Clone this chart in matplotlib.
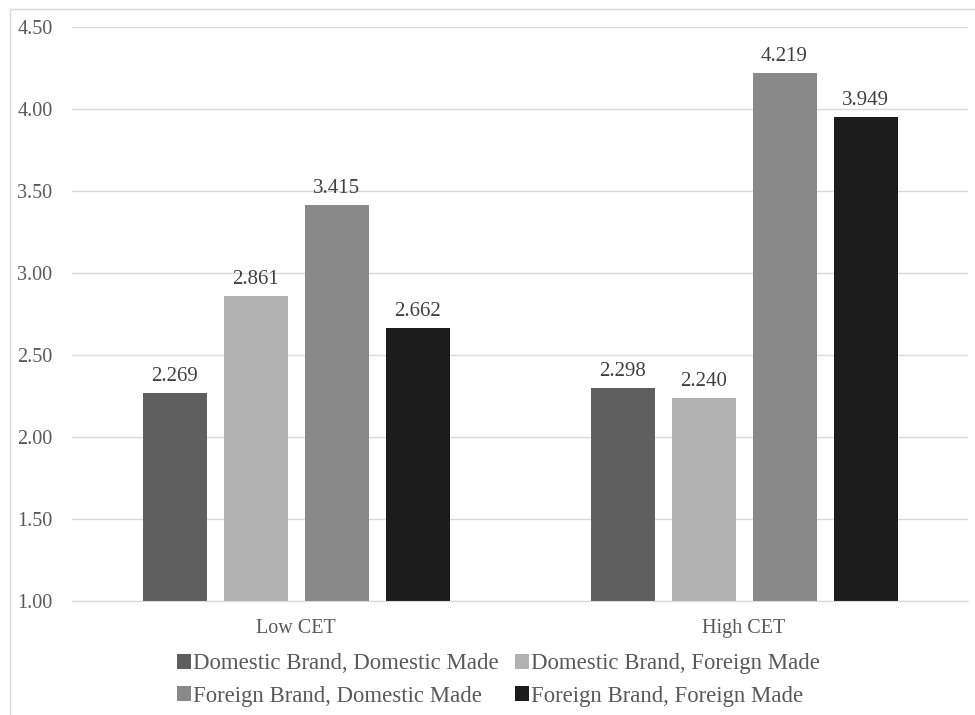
import matplotlib

matplotlib.use("Agg")
import matplotlib.pyplot as plt
from matplotlib.patches import Rectangle
import numpy as np

groups = ["Low CET", "High CET"]
series = [
    "Domestic Brand, Domestic Made",
    "Domestic Brand, Foreign Made",
    "Foreign Brand, Domestic Made",
    "Foreign Brand, Foreign Made",
]
values = [
    [2.269, 2.298],
    [2.861, 2.240],
    [3.415, 4.219],
    [2.662, 3.949],
]
colors = ["#5f5f5f", "#b2b2b2", "#898989", "#1c1c1c"]
yticks = [1.0, 1.5, 2.0, 2.5, 3.0, 3.5, 4.0, 4.5]

plt.rcParams["font.family"] = ["Liberation Serif", "DejaVu Serif"]
text_color = "#595959"

fig = plt.figure(figsize=(9.75, 7.15), dpi=100)
W, H = 975, 715
ax = fig.add_axes([72 / W, 1 - 601 / H, (968 - 72) / W, (601 - 27) / H])

# chart border (only left and top visible)
fig.patches.append(Rectangle((10 / W, -0.1), 1.2, 1 - 9 / H + 0.1, transform=fig.transFigure,
                             fill=False, edgecolor="#d9d9d9", linewidth=1))

x = np.arange(len(groups))
width = 64 / 448
step = 81 / 448
handles = []
for i, (name, vals) in enumerate(zip(series, values)):
    pos = x + (i - 1.5) * step
    bars = ax.bar(pos, [v - 1.0 for v in vals], width, bottom=1.0, color=colors[i],
                  label=name, zorder=3)
    handles.append(bars)
    for p, v in zip(pos, vals):
        ax.annotate(f"{v:.3f}", (p, v), xytext=(0, 5), textcoords="offset points",
                    ha="center", va="bottom", fontsize=15, color="#404040")

ax.set_xlim(-0.5, 1.5)
ax.set_ylim(1.0, 4.5)
ax.set_yticks(yticks)
ax.set_yticklabels([f"{t:.2f}" for t in yticks])
ax.set_xticks(x)
ax.set_xticklabels(groups)
ax.tick_params(axis="both", length=0, labelsize=14.5, labelcolor=text_color)
ax.tick_params(axis="y", pad=14)
ax.tick_params(axis="x", pad=13)
ax.grid(axis="y", color="#d9d9d9", linewidth=1, zorder=0)
for s in ["top", "right", "left"]:
    ax.spines[s].set_visible(False)
ax.spines["bottom"].set_color("#d9d9d9")
ax.spines["bottom"].set_zorder(4)

# row-major legend order
order = [0, 2, 1, 3]
leg = fig.legend([handles[k] for k in order], [series[k] for k in order],
                 loc="center", bbox_to_anchor=(0.5 + 11 / W, 1 - 680 / H), ncol=2, frameon=False,
                 fontsize=16.4, handlelength=0.6, handleheight=0.6, handletextpad=0.1,
                 columnspacing=0.7, labelspacing=0.5, labelcolor=text_color)

fig.savefig("out.png", dpi=100)
